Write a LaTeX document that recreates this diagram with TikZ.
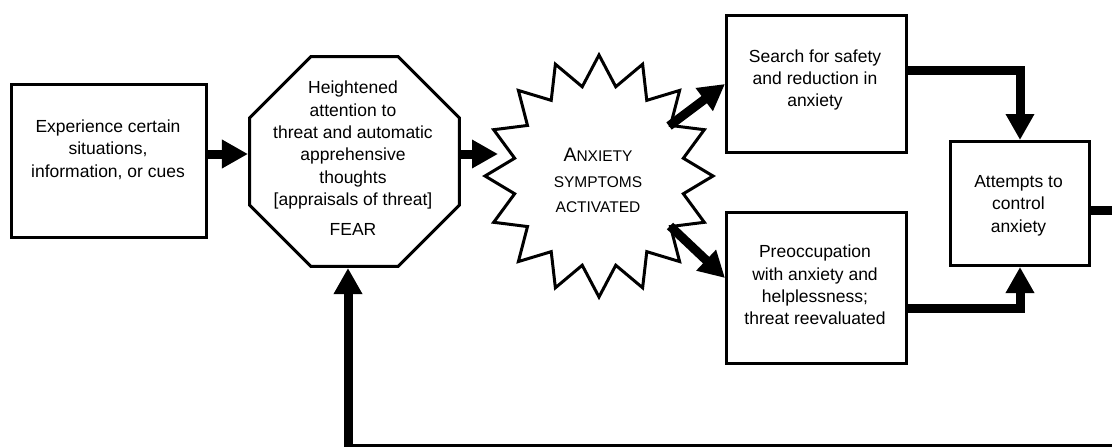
\documentclass[tikz,border=0pt]{standalone}
\usepackage{fontspec}
\setmainfont{Liberation Sans}
\usetikzlibrary{arrows.meta,shapes.geometric}
\begin{document}
\begin{tikzpicture}[x=1pt,y=-1pt,
  box/.style={draw,line width=3pt,inner sep=0pt,rectangle},
  boxtext/.style={align=center,inner sep=0pt,font=\fontsize{17.5}{22.3}\selectfont},
  flow/.style={line width=9pt,-{Triangle[length=26pt,width=27pt]}},
  ]
\useasboundingbox (0,0) rectangle (1112,447);
\clip (0,0) rectangle (1112,447);

% reference rows and bends for the connectors
\coordinate (rowA) at (0,154);
\coordinate (starW) at (498,154);
\coordinate (starNE) at (669,126);
\coordinate (starSE) at (670,226);
\coordinate (preIn) at (0,278);
\coordinate (safeOut) at (0,70);
\coordinate (preOut) at (0,308);
\coordinate (ctrlOut) at (0,210.5);
\coordinate (loopR) at (1140,448);
\coordinate (loopL) at (348,448);

% boxes
\node[box,minimum width=195pt,minimum height=153pt] (exp) at (109.2,161) {};
\node[boxtext] (expT) at (108,149.5) {Experience certain\\situations,\\information, or cues};

\node[draw,line width=3pt,regular polygon,regular polygon sides=8,
      minimum size=227.3pt,inner sep=0pt] (fear) at (354.5,161.5) {};
\node[boxtext] (fearT) at (353,158.3) {Heightened\\attention to\\threat and automatic\\apprehensive\\thoughts\\{[appraisals of threat]}\\[7.7pt]FEAR};

% sixteen-point burst
\draw[line width=3pt,line join=miter,fill=white]
  plot[variable=\k,samples at={0,...,31}]
  ({599+(100+14*cos(\k*180))*cos(90+\k*11.25)},{176-(106+15*cos(\k*180))*sin(90+\k*11.25)}) -- cycle;
\node[align=center,inner sep=0pt,font=\fontsize{15.5}{25.6}\selectfont] (anxT) at (598,180.5)
  {{\fontsize{19.5}{25.6}\selectfont A}NXIETY\\SYMPTOMS\\ACTIVATED};

\node[box,minimum width=180pt,minimum height=137pt] (safe) at (816.5,84) {};
\node[boxtext] (safeT) at (815,80) {Search for safety\\and reduction in\\anxiety};

\node[box,minimum width=180pt,minimum height=151pt] (pre) at (816.5,288) {};
\node[boxtext] (preT) at (815,285) {Preoccupation\\with anxiety and\\helplessness;\\threat reevaluated};

\node[box,minimum width=139.5pt,minimum height=124pt] (ctrl) at (1020,203.5) {};
\node[boxtext] (ctrlT) at (1018.5,205.6) {Attempts to\\control\\anxiety};

% connectors
\draw[flow] (exp.east |- rowA) -- (fear.west |- rowA);
\draw[flow] (fear.east |- rowA) -- (starW);
\draw[flow] (starNE) -- (safe.west);
\draw[flow] (starSE) -- (pre.west |- preIn);
\draw[flow] (safe.east |- safeOut) -| (ctrl.north);
\draw[flow] (pre.east |- preOut) -| (ctrl.south);
\draw[flow] (ctrl.east |- ctrlOut) -| (loopR) -- (loopL) -- (fear.south -| loopL);
\end{tikzpicture}
\end{document}
